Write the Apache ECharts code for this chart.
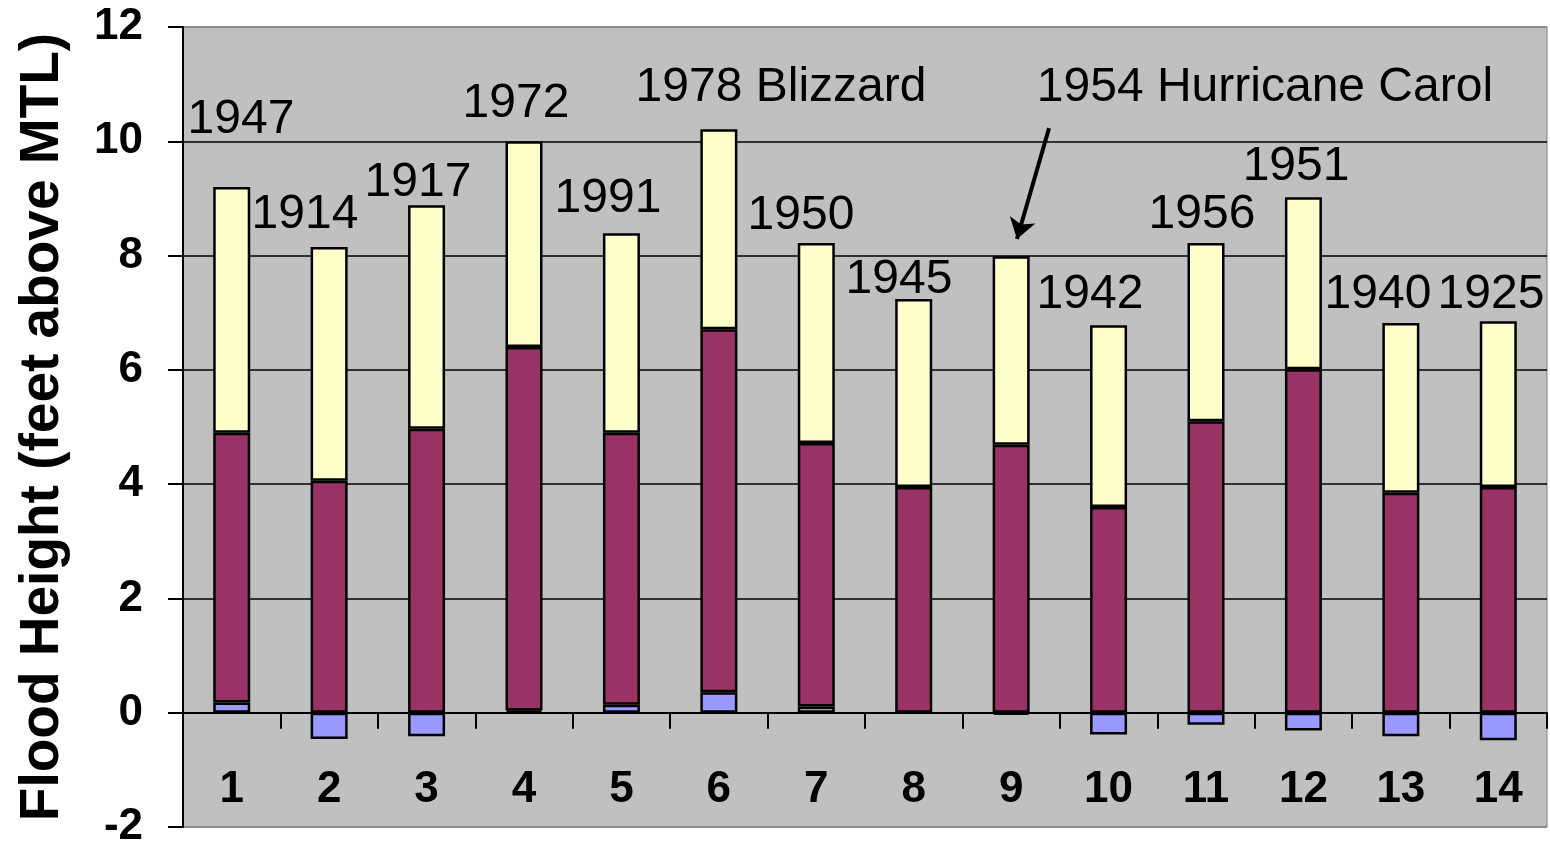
<!DOCTYPE html>
<html>
<head>
<meta charset="utf-8">
<title>Flood Height</title>
<script src="https://cdn.jsdelivr.net/npm/echarts@6/dist/echarts.min.js"></script>
<style>
  html, body { margin: 0; padding: 0; background: #ffffff; }
  #chart { width: 1550px; height: 846px; }
</style>
</head>
<body>
<div id="chart"></div>
<script>
// Ranked flood events, 1 = highest
const categories = ['1', '2', '3', '4', '5', '6', '7', '8', '9', '10', '11', '12', '13', '14'];

// Stacked components of each flood height (feet above MTL)
const lowerPart  = [0.18, -0.46, -0.41, 0.04, 0.14, 0.36, 0.11, 0.00, -0.04, -0.38, -0.21, -0.31, -0.41, -0.48];
const middlePart = [4.72, 4.06, 4.97, 6.36, 4.76, 6.35, 4.61, 3.95, 4.69, 3.60, 5.10, 6.01, 3.85, 3.95];
const upperPart  = [4.30, 4.09, 3.91, 3.60, 3.49, 3.50, 3.50, 3.29, 3.30, 3.18, 3.12, 3.01, 2.97, 2.90];

// Event names written above the bars: [position along the ranks, height, text]
const eventLabels = [
  [1.095, 10.37, '1947'],
  [1.752, 8.71, '1914'],
  [2.912, 9.27, '1917'],
  [3.918, 10.66, '1972'],
  [4.862, 8.99, '1991'],
  [6.638, 10.93, '1978 Blizzard'],
  [6.843, 8.69, '1950'],
  [7.849, 7.57, '1945'],
  [11.605, 10.93, '1954 Hurricane Carol'],
  [9.809, 7.31, '1942'],
  [10.959, 8.71, '1956'],
  [11.924, 9.55, '1951'],
  [12.765, 7.31, '1940'],
  [13.925, 7.31, '1925']
];

// Pointer from the Hurricane Carol caption down to its bar
const carolArrow = [[9.389, 10.23], [9.06, 8.29]];

// Y tick values
const yTicks = { min: -2, max: 12, step: 2 };

const FONT = "'Liberation Sans', Arial, Helvetica, sans-serif";
const barBorder = { borderColor: '#000000', borderWidth: 2.5 };

const chart = echarts.init(document.getElementById('chart'), null, { renderer: 'canvas' });

chart.setOption({
  animation: false,
  backgroundColor: '#ffffff',
  grid: {
    left: 183, right: 3, top: 27, bottom: 19,
    containLabel: false,
    outerBoundsMode: 'none',
    show: true,
    backgroundColor: '#C0C0C0',
    borderColor: '#808080',
    borderWidth: 1
  },
  xAxis: [
    {
      // rank axis: line and ticks sit on the zero level
      type: 'category',
      data: categories,
      axisLine: { onZero: true, lineStyle: { color: '#000000', width: 2 } },
      axisTick: { show: true, interval: 0, length: 16, lineStyle: { color: '#000000', width: 2 } },
      axisLabel: { show: false },
      splitLine: { show: false }
    },
    {
      // continuous position along the ranks, used for the event captions
      type: 'value',
      min: 0.5, max: 14.5,
      show: false
    },
    {
      // rank numbers, drawn inside the plot near its lower edge
      type: 'category',
      data: categories,
      position: 'bottom',
      offset: -59,
      axisLine: { show: false, onZero: false },
      axisTick: { show: false },
      axisLabel: {
        interval: 0, margin: 0, color: '#000000', verticalAlign: 'top',
        fontFamily: FONT, fontSize: 44, fontWeight: 'bold'
      },
      splitLine: { show: false }
    }
  ],
  yAxis: {
    type: 'value',
    min: yTicks.min, max: yTicks.max, interval: yTicks.step,
    name: 'Flood Height (feet above MTL)',
    nameLocation: 'middle',
    nameGap: 113,
    nameTextStyle: { fontFamily: FONT, fontSize: 55, fontWeight: 'bold', color: '#000000' },
    axisLine: { show: true, onZero: false, lineStyle: { color: '#000000', width: 2 } },
    axisTick: { show: true, length: 15, lineStyle: { color: '#000000', width: 2 } },
    axisLabel: { margin: 40, color: '#000000', fontFamily: FONT, fontSize: 44, fontWeight: 'bold' },
    splitLine: {
      show: true,
      lineStyle: {
        color: ['#808080', '#000000', '#000000', '#000000', '#000000', '#000000', '#000000', '#808080'],
        width: 1.5
      }
    }
  },
  series: [
    {
      name: 'lower', type: 'bar', stack: 'flood',
      data: lowerPart, barWidth: 37,
      itemStyle: Object.assign({ color: '#9999FF' }, barBorder)
    },
    {
      name: 'middle', type: 'bar', stack: 'flood',
      data: middlePart, barWidth: 37,
      itemStyle: Object.assign({ color: '#993366' }, barBorder)
    },
    {
      name: 'upper', type: 'bar', stack: 'flood',
      data: upperPart, barWidth: 37,
      itemStyle: Object.assign({ color: '#FFFFCC' }, barBorder)
    },
    {
      name: 'events', type: 'scatter',
      xAxisIndex: 1, yAxisIndex: 0,
      symbolSize: 0,
      silent: true,
      z: 5,
      itemStyle: { opacity: 1 },
      data: eventLabels.map(d => ({ value: [d[0], d[1]], name: d[2] })),
      label: {
        show: true, position: 'inside', formatter: '{b}',
        color: '#000000', opacity: 1, textBorderWidth: 0,
        fontFamily: FONT, fontSize: 48
      },
      markLine: {
        silent: true,
        animation: false,
        symbol: ['none', 'arrow'],
        symbolSize: 20,
        label: { show: false },
        lineStyle: { color: '#000000', width: 4, type: 'solid', opacity: 1 },
        emphasis: { disabled: true },
        data: [[{ coord: carolArrow[0] }, { coord: carolArrow[1] }]]
      }
    }
  ]
});
</script>
</body>
</html>
